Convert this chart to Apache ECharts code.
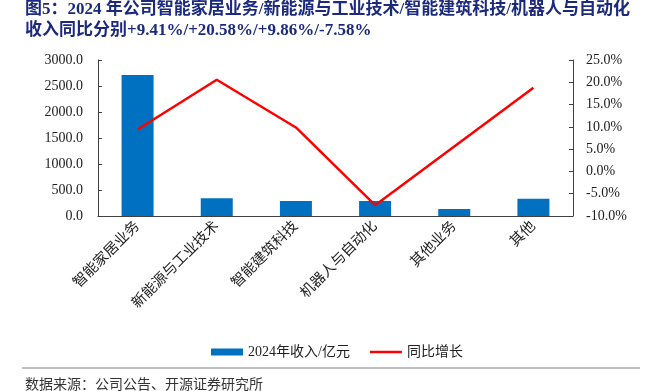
<!DOCTYPE html>
<html>
  <head>
    <meta charset="utf-8" />
    <title>2024年业务收入及同比</title>
    <style>
      body {
        margin: 0;
        padding: 0;
        background: #fff;
      }
      #chart {
        width: 662px;
        height: 391px;
      }
    </style>
  </head>
  <body>
    <div id="chart"></div>
    <script src="https://cdn.jsdelivr.net/npm/echarts@6/dist/echarts.min.js"></script>
    <script type="text/javascript">
      var categories = ['智能家居业务', '新能源与工业技术', '智能建筑科技', '机器人与自动化', '其他业务', '其他'];
      var revenue = [2710, 340, 288, 290, 135, 333];
      var growth = [9.41, 20.58, 9.86, -7.58, 5.6, 18.8];
      var titleLines = ['图5：2024 年公司智能家居业务/新能源与工业技术/智能建筑科技/机器人与自动化', '收入同比分别+9.41%/+20.58%/+9.86%/-7.58%'];
      var sourceText = '数据来源：公司公告、开源证券研究所';

      var font = '"Liberation Serif", "Noto Sans CJK SC", serif';
      var axisColor = '#404040';

      var chart = echarts.init(document.getElementById('chart'));
      var option = {
        backgroundColor: '#fff',
        animation: false,
        textStyle: { fontFamily: font },
        title: [
          {
            text: titleLines.join('\n'),
            left: 20,
            top: -6,
            textStyle: {
              color: '#1C2A7E',
              fontSize: 17,
              fontWeight: 'bold',
              lineHeight: 21,
              fontFamily: font
            }
          },
          {
            text: sourceText,
            left: 20,
            top: 373,
            textStyle: { color: '#333', fontSize: 14, fontWeight: 'normal', fontFamily: font }
          }
        ],
        legend: {
          left: 206,
          top: 340,
          itemWidth: 32,
          itemHeight: 7,
          itemGap: 20,
          symbolKeepAspect: true,
          textStyle: { color: '#222', fontSize: 14, fontFamily: font },
          data: [
            { name: '2024年收入/亿元', icon: 'rect' },
            { name: '同比增长', icon: 'path://M0,0 H40 V3 H0 Z', itemStyle: { color: '#FF0000' } }
          ]
        },
        grid: { left: 98, right: 89, top: 60, bottom: 175 },
        xAxis: {
          type: 'category',
          data: categories,
          axisLine: { lineStyle: { color: axisColor } },
          axisTick: { inside: true, length: 4, lineStyle: { color: axisColor } },
          axisLabel: { rotate: 45, color: '#222', fontSize: 14.5, margin: 8, interval: 0 }
        },
        yAxis: [
          {
            type: 'value',
            min: 0,
            max: 3000,
            interval: 500,
            splitLine: { show: false },
            axisLine: { show: true, lineStyle: { color: axisColor } },
            axisTick: { show: true, inside: true, length: 4, lineStyle: { color: axisColor } },
            axisLabel: {
              color: '#222',
              fontSize: 14,
              margin: 15,
              formatter: function (v) {
                return v.toFixed(1);
              }
            }
          },
          {
            type: 'value',
            min: -10,
            max: 25,
            interval: 5,
            splitLine: { show: false },
            axisLine: { show: true, lineStyle: { color: axisColor } },
            axisTick: { show: true, inside: true, length: 4, lineStyle: { color: axisColor } },
            axisLabel: {
              color: '#222',
              fontSize: 14,
              margin: 13,
              formatter: function (v) {
                return v.toFixed(1) + '%';
              }
            }
          }
        ],
        series: [
          {
            name: '2024年收入/亿元',
            type: 'bar',
            data: revenue,
            barWidth: 32,
            itemStyle: { color: '#0070C0' }
          },
          {
            name: '同比增长',
            type: 'line',
            yAxisIndex: 1,
            data: growth,
            symbol: 'none',
            lineStyle: { color: '#FF0000', width: 2.5 },
            itemStyle: { color: '#FF0000' }
          }
        ],
        graphic: [
          {
            type: 'line',
            shape: { x1: 22, y1: 368, x2: 640, y2: 368 },
            style: { stroke: '#808080', lineWidth: 1 }
          }
        ]
      };
      chart.setOption(option);
    </script>
  </body>
</html>
